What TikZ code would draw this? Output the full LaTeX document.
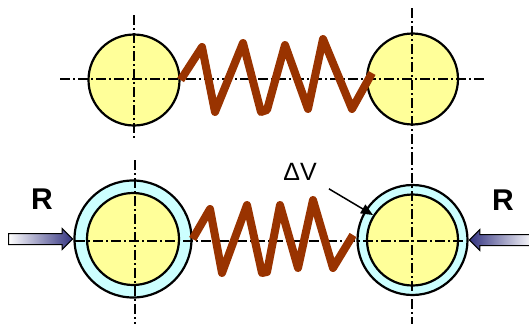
\documentclass[tikz,border=0pt]{standalone}
\usepackage{fontspec}
\setsansfont{Liberation Sans}
\usetikzlibrary{arrows.meta,shapes.arrows}
\definecolor{bolaamarela}{RGB}{255,255,153}
\definecolor{camadaciano}{RGB}{204,255,255}
\definecolor{cormola}{RGB}{153,51,0}
\definecolor{azulseta}{RGB}{51,51,128}

\begin{document}
\begin{tikzpicture}[x=1pt,y=-1pt,
        bola/.style={circle, draw, line width=2.2pt, fill=bolaamarela, inner sep=0pt},
        casca/.style={circle, draw, line width=2.2pt, fill=camadaciano, inner sep=0pt},
        eixo/.style={line width=1.4pt, dash pattern=on 10pt off 3pt on 2pt off 3pt},
        mola/.style={line width=8pt, draw=cormola, line join=round},
        empurra/.style={single arrow, draw, line width=1pt, minimum width=20pt, single arrow head extend=5pt, single arrow head indent=0pt, minimum height=64pt, inner xsep=0pt, inner ysep=5pt},
        rotulo/.style={font=\sffamily\bfseries\fontsize{30}{30}\selectfont, inner sep=0pt}
    ]
        \useasboundingbox (0,0) rectangle (529,324);

        % estado inicial
        \node[bola, minimum size=91pt] (t1) at (134,80) {};
        \node[bola, minimum size=91pt] (t2) at (412.5,79) {};

        % estado comprimido
        \node[casca, minimum size=117pt] (b1) at (133,239) {};
        \node[bola, minimum size=92pt] (b1i) at (133,239) {};
        \node[casca, minimum size=110pt] (b2) at (412.5,240) {};
        \node[bola, minimum size=91pt] (b2i) at (412.5,240) {};

        % eixos
        \draw[eixo] (60,79) -- (486,79);
        \draw[eixo] (134,15) -- (134,140);
        \draw[eixo] (412,8) -- (412,155);
        \draw[eixo] (75,241) -- (466,241);
        \draw[eixo] (135,160) -- (135,324);
        \draw[eixo] (412,155) -- (412,324);

        % molas
        \draw[mola] (t1.east) -- (202,47) -- (215,112) -- (243,43) -- (261,112) -- (267,110) -- (285,45) -- (308,109) -- (323,39) -- (352,109) -- (372,73);
        \draw[mola] (b1.east) -- (210,209) -- (222,273) -- (247,205) -- (262,273) -- (267,272) -- (280,205) -- (298,268) -- (313,200) -- (333,268) -- (353,235);

        % forcas
        \node[empurra, anchor=tip, left color=white, right color=azulseta] (p1) at (b1.west) {};
        \node[empurra, shape border rotate=180, anchor=tip, left color=azulseta, right color=white] (p2) at (b2.east) {};
        \node[rotulo] (r1) at (42,199) {R};
        \node[rotulo] (r2) at (503,200) {R};

        \node[font=\sffamily\fontsize{25}{25}\selectfont, inner sep=0pt] (dv) at (300,172) {ΔV};
        \coordinate (alvo) at (373,215);
        \draw[-{Triangle[length=12pt,width=10pt]}, line width=1.5pt] ([shift={(12,8)}]dv.south east) -- (alvo);

    \end{tikzpicture}
\end{document}
